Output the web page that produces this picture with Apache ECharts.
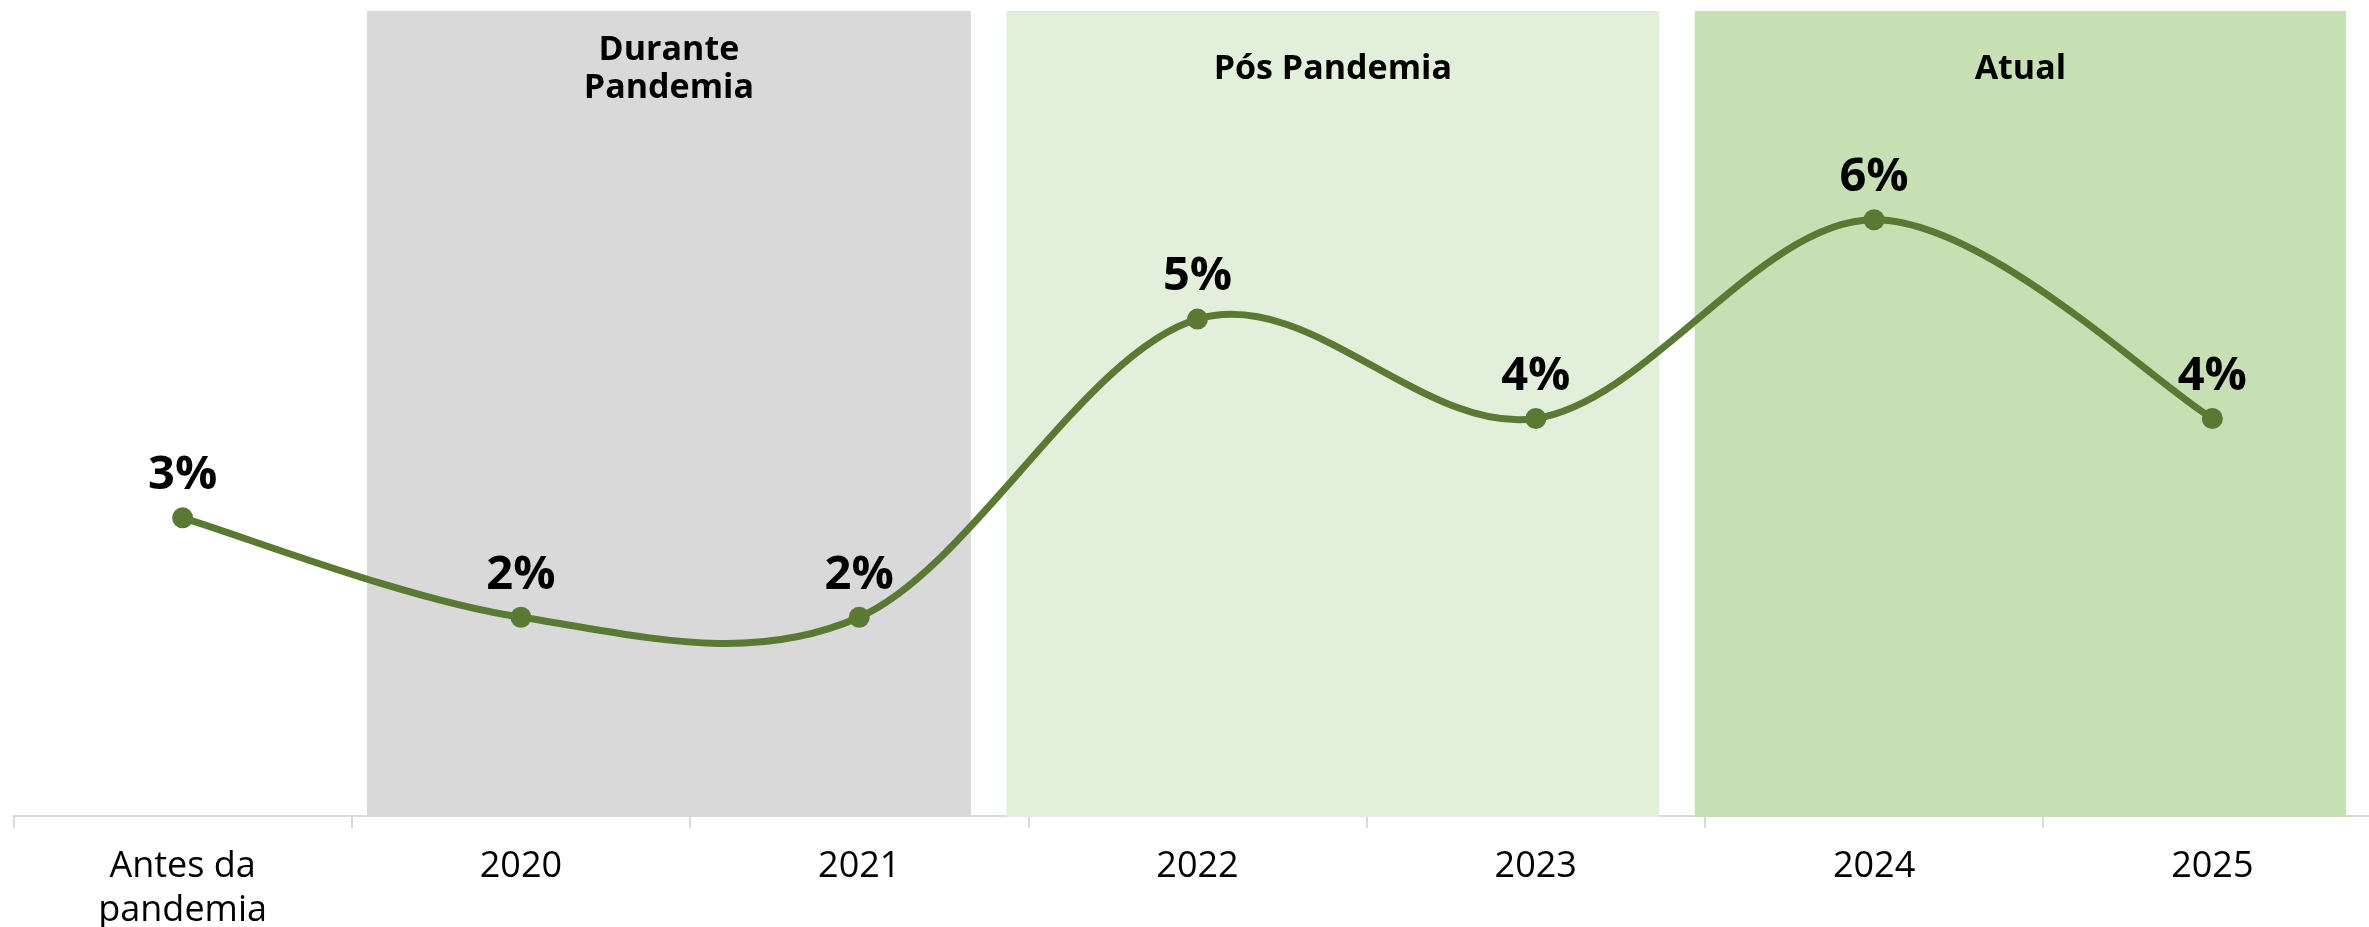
<!DOCTYPE html>
<html>
<head>
<meta charset="utf-8">
<script src="https://cdn.jsdelivr.net/npm/echarts@6/dist/echarts.min.js"></script>
<style>
html,body{margin:0;padding:0;background:#fff;}
#chart{width:2369px;height:927px;}
</style>
</head>
<body>
<div id="chart"></div>
<script>
const categories = ['Antes da\npandemia', '2020', '2021', '2022', '2023', '2024', '2025'];
const values = [3, 2, 2, 5, 4, 6, 4];
const periodNames = ['Durante\nPandemia', 'Pós Pandemia', 'Atual'];
const periodStart = [0.545, 2.435, 4.47];
const periodEnd = [2.33, 4.365, 6.395];
const periodColors = ['#D9D9D9', '#E2EFDA', '#C6E0B4'];

const yMax = 8.1;
const FONT = '"Open Sans", "Noto Sans", sans-serif';
const LINE_COLOR = '#5A7A34';

const chart = echarts.init(document.getElementById('chart'), null, {renderer: 'canvas'});

const periodData = periodNames.map((n, i) => [periodStart[i], periodEnd[i], i]);
const curveData = values.map((v, i) => [i, v]);

chart.setOption({
  animation: false,
  backgroundColor: '#ffffff',
  grid: {left: 13.5, top: 11, width: 2368, height: 805, containLabel: false, outerBoundsMode: 'none'},
  xAxis: [
    {
      type: 'category',
      data: categories,
      boundaryGap: true,
      axisLine: {show: true, lineStyle: {color: '#D9D9D9', width: 2}},
      axisTick: {show: true, length: 12, lineStyle: {color: '#D9D9D9', width: 2}},
      axisLabel: {
        color: '#000000', fontFamily: FONT, fontSize: 36, lineHeight: 44, margin: 29
      },
      splitLine: {show: false}
    },
    {
      type: 'value', min: -0.5, max: 6.5, show: false
    }
  ],
  yAxis: {type: 'value', min: 0, max: yMax, show: false, splitLine: {show: false}},
  series: [
    {
      type: 'custom',
      xAxisIndex: 1,
      yAxisIndex: 0,
      z: 1,
      silent: true,
      data: periodData,
      renderItem: function (params, api) {
        const p0 = api.coord([api.value(0), yMax]);
        const p1 = api.coord([api.value(1), 0]);
        const idx = api.value(2);
        const cx = (p0[0] + p1[0]) / 2;
        return {
          type: 'group',
          children: [
            {
              type: 'rect',
              shape: {x: p0[0], y: p0[1], width: p1[0] - p0[0], height: p1[1] - p0[1] + 1},
              style: {fill: periodColors[idx]}
            },
            {
              type: 'text',
              x: cx, y: p0[1] + 58,
              style: {
                text: periodNames[idx],
                fill: '#000000',
                font: 'bold 34px ' + FONT,
                lineHeight: 38,
                align: 'center',
                verticalAlign: 'middle'
              }
            }
          ]
        };
      }
    },
    {
      type: 'custom',
      xAxisIndex: 0,
      yAxisIndex: 0,
      z: 2,
      silent: true,
      data: curveData,
      renderItem: function (params, api) {
        const i = params.dataIndexInside;
        const n = params.dataInsideLength;
        if (i >= n - 1) return null;
        const pt = function (k) {
          k = Math.max(0, Math.min(n - 1, k));
          return api.coord([api.value(0, k), api.value(1, k)]);
        };
        const a = pt(i - 1), b = pt(i), c = pt(i + 1), d = pt(i + 2);
        return {
          type: 'bezierCurve',
          shape: {
            x1: b[0], y1: b[1],
            cpx1: b[0] + (c[0] - a[0]) / 6, cpy1: b[1] + (c[1] - a[1]) / 6,
            cpx2: c[0] - (d[0] - b[0]) / 6, cpy2: c[1] - (d[1] - b[1]) / 6,
            x2: c[0], y2: c[1]
          },
          style: {stroke: LINE_COLOR, lineWidth: 7, fill: null, lineCap: 'round'}
        };
      }
    },
    {
      type: 'line',
      z: 3,
      data: values,
      symbol: 'circle',
      symbolSize: 21,
      itemStyle: {color: LINE_COLOR},
      lineStyle: {opacity: 0, width: 0},
      label: {
        show: true,
        position: 'top',
        distance: 8,
        formatter: '{c}%',
        color: '#000000',
        fontFamily: FONT,
        fontWeight: 'bold',
        fontSize: 47
      }
    }
  ]
});
</script>
</body>
</html>
